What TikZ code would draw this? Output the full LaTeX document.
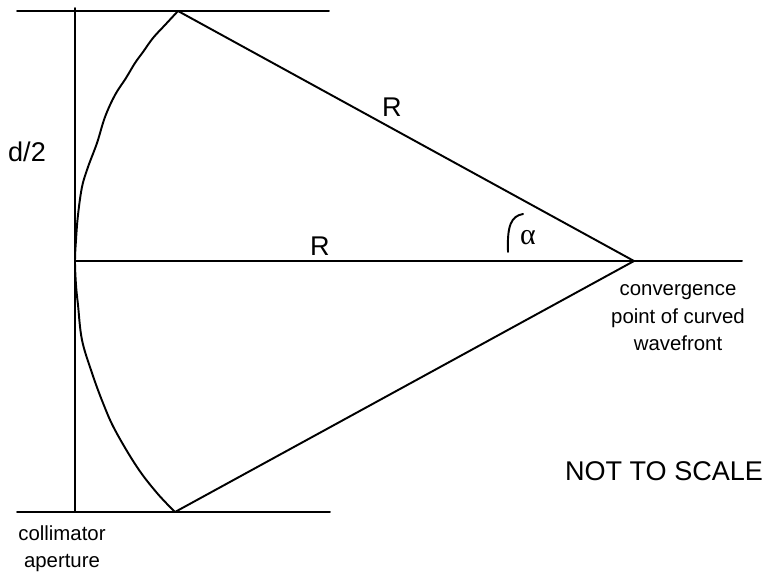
\documentclass[tikz,border=0pt]{standalone}
\usepackage{fontspec}
\setmainfont{Liberation Sans}
\newfontfamily\greekfont{Liberation Serif}
\usepackage{tikz}
\usetikzlibrary{calc, positioning}

\tikzset{
    ray/.style={line width=1.1pt, line cap=round, line join=round},
    biglabel/.style={font=\fontsize{15.4}{18}\selectfont, inner sep=0pt},
    smalllabel/.style={font=\fontsize{11.6}{15.6}\selectfont, align=center, inner sep=0pt}
}

\begin{document}
\begin{tikzpicture}[x=0.02cm, y=-0.02cm]
    \useasboundingbox (0,0) rectangle (766,575);

    % Key points
    \coordinate (O) at (75,261);
    \coordinate (F) at (634,261);
    \coordinate (T) at (178,11);
    \coordinate (B) at (175,512);
    \coordinate (TL) at (17,11);
    \coordinate (TR) at (329,11);
    \coordinate (BL) at (17,512);
    \coordinate (BR) at (330,512);
    \coordinate (Otop) at (75,8);
    \coordinate (Obot) at (75,512);
    \coordinate (Fend) at (742,261);

    % Aperture limits and axis
    \draw[ray] (TL) -- (TR);
    \draw[ray] (BL) -- (BR);
    \draw[ray] (Otop) -- (Obot);
    \draw[ray] (O) -- (Fend);

    % Rays to the convergence point
    \draw[ray] (T) -- (F);
    \draw[ray] (B) -- (F);

    % Curved wavefront
    \draw[ray] plot[smooth, tension=0.6] coordinates {
        (178,11) (165,25) (153,38) (143,52) (135,63) (126,78) (115,95)
        (105,117) (97,143) (88,167) (82,187) (78,215) (76,240) (75,261)
        (76,285) (78,305) (82,340) (92,373) (103,403) (115,430) (137,467)
        (157,493) (175,512)};

    % Angle mark
    \draw[ray] (508,252) .. controls (507,226) and (511,216) .. (523,214);

    % Labels
    \node[biglabel] (dhalf) at (27,152) {d/2};
    \node[biglabel] (Rtop) at (392,107) {R};
    \node[biglabel] (Raxis) at (320,246) {R};
    \node[biglabel, font=\fontsize{17}{18}\selectfont\greekfont] (alpha) at (528,238) {α};
    \node[smalllabel] (convtext) at (678,318) {convergence\\point of curved\\wavefront};
    \node[biglabel] (scaletext) at (664,471) {NOT TO SCALE};
    \node[smalllabel] (colltext) at (62,549) {collimator\\aperture};
\end{tikzpicture}
\end{document}
